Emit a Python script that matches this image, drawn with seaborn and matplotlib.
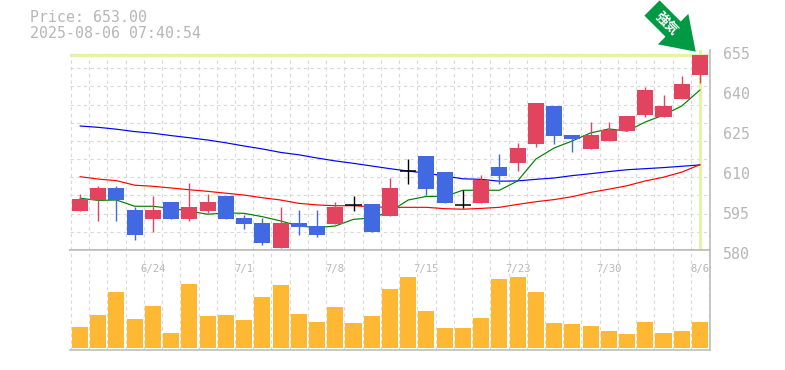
import numpy as np
import pandas as pd
import seaborn as sns
import matplotlib
matplotlib.use('Agg')
import matplotlib.pyplot as plt
from matplotlib.transforms import ScaledTranslation

# daily candles
opens = [594.6, 598.75, 603.25, 595, 591.6, 598, 591.6, 594.6, 600.25, 592, 590.1, 580.75,
         590.1, 589, 589.75, 597, 597.25, 592.75, 609.75, 615.25, 609.25, 597, 597.6, 611.1,
         612.6, 619.75, 634, 623.1, 617.9, 620.9, 624.6, 630.6, 629.9, 636.6, 645.6]
closes = [599.1, 603.25, 598.75, 585.6, 595, 591.6, 596.1, 598, 591.6, 589.75, 582.6, 590.1,
          588.6, 585.6, 596.1, 597, 586.75, 603.25, 609.75, 602.9, 597.6, 597, 606.25, 607.75,
          618.25, 635.1, 622.75, 621.6, 623.1, 625, 630.25, 640, 634, 642.25, 653.1]
highs = [601, 604, 604, 596.1, 600.25, 598, 605.1, 601, 600.25, 593.1, 592, 596.1,
         595, 595, 598, 600.25, 597.25, 607, 614.1, 615.25, 609.25, 602.5, 608.1, 616,
         620.1, 635.1, 634, 623.1, 628, 628, 630.25, 641.1, 638.1, 645.25, 653.1]
lows = [594.6, 590.9, 590.9, 583.75, 586.75, 591.6, 590.9, 593.9, 591.6, 587.9, 581.9, 580.75,
        585.6, 584.9, 589.75, 594.6, 586.75, 592.75, 604.75, 600.6, 597.6, 595.75, 597.6, 604.75,
        609.6, 618.6, 619.75, 616.75, 617.9, 620.9, 624.6, 629.9, 629.9, 636.6, 642.6]

ma_short = [599.4, 598.6, 598.75, 596.4, 596.4, 595.6, 594.6, 593.4, 593.9, 593.75, 592.5, 590.9,
            589, 588.4, 589, 591.5, 592, 594.4, 598.75, 600.1, 600.1, 602.4, 602.4, 602.4,
            605.9, 614.1, 618.25, 620.9, 623.9, 625.4, 624.6, 628, 630.6, 634, 640]
ma_mid = [607.5, 606.6, 606, 604.3, 603.9, 603.25, 602.6, 602, 601.3, 600.6, 599.6, 598.75,
          597.5, 596.9, 596.6, 596.6, 596.2, 596, 596, 596, 595.5, 595.3, 595.6, 596,
          597.1, 598.1, 598.9, 600, 601.6, 602.8, 604.1, 605.9, 607.3, 609.2, 612]
ma_long = [626.5, 626, 625.3, 624.4, 623.8, 622.9, 622.1, 621.25, 620.2, 619, 617.9, 616.6,
           615.7, 614.5, 613.4, 612.5, 611.5, 610.5, 609.6, 608.8, 607.75, 606.7, 606.5, 605.8,
           605.9, 606.5, 607, 607.9, 608.6, 609.4, 610.1, 610.5, 610.9, 611.4, 611.9]

volume = [21, 33, 56, 29, 42, 15, 64, 32, 33, 28, 51, 63, 34, 26, 41, 25, 32, 59,
          71, 37, 20, 20, 30, 69, 71, 56, 25, 24, 22, 17, 14, 26, 15, 17, 26]

date_pos = [4, 9, 14, 19, 24, 29, 34]
date_labels = ['6/24', '7/1', '7/8', '7/15', '7/23', '7/30', '8/6']
price_ticks = [580, 595, 610, 625, 640, 655]
last_price = 653.0

RED = '#e2435f'
BLUE = '#4169e1'
GRID = '#d8d8d8'
FRAME = '#bdbdbd'
TEXT = '#b6b6b6'
HILITE = '#e3f4a6'
MONO = 'DejaVu Sans Mono'
DASH = (0, (3, 3))

sns.set_style('white')
plt.rcParams['font.family'] = [MONO, 'Noto Sans CJK JP']

W, H = 785, 370
fig = plt.figure(figsize=(W / 100, H / 100), dpi=100)
ax = fig.add_axes([70 / W, 1 - 250 / H, 640 / W, 200 / H])
ax_vol = fig.add_axes([70 / W, 1 - 350 / H, 640 / W, 100 / H])

df = pd.DataFrame({'i': np.arange(len(opens)), 'open': opens, 'close': closes, 'high': highs, 'low': lows,
                   'short': ma_short, 'mid': ma_mid, 'long': ma_long, 'volume': volume})
xlim = (-0.548, 34.55)
grid_x = np.arange(len(df) + 1) - 0.5

# moving averages sit under the candles
for col, c in [('long', '#0000ff'), ('mid', '#ff0000'), ('short', '#007f00')]:
    sns.lineplot(data=df, x='i', y=col, ax=ax, color=c, linewidth=0.85, zorder=3)

ax.axhline(last_price, color=HILITE, linewidth=2.4, zorder=2)
ax.axvline(df['i'].iloc[-1], color=HILITE, linewidth=2.2, zorder=2)

up = df[df['close'] > df['open']]
down = df[df['close'] < df['open']]
doji = df[df['close'] == df['open']]
for part, c in [(up, RED), (down, BLUE), (doji, 'black')]:
    ax.vlines(part['i'], part['low'], part['high'], color=c, linewidth=1.0, zorder=4)
    ax.bar(part['i'], (part['close'] - part['open']).abs(), bottom=part[['open', 'close']].min(axis=1),
           width=0.88, color=c, linewidth=0, zorder=5)
ax.hlines(doji['open'], doji['i'] - 0.44, doji['i'] + 0.44, color='black', linewidth=1.1, zorder=5)

ax.set_xlim(xlim)
ax.set_ylim(580, 655)
ax.set_xticks(grid_x, minor=True)
ax.set_xticks([])
ax.set_yticks(np.linspace(580, 655, 12), minor=True)
ax.set_yticks(price_ticks, [str(p) for p in price_ticks])
ax.grid(which='minor', color=GRID, linestyle=DASH, linewidth=0.8)
ax.grid(which='major', visible=False)
ax.set_axisbelow(True)
ax.yaxis.tick_right()
ax.tick_params(axis='y', which='major', length=0, pad=9, labelsize=10.7, labelcolor=TEXT)
ax.tick_params(which='minor', length=0)
ax.set_xlabel('')
ax.set_ylabel('')
for lab in ax.get_yticklabels():
    lab.set_transform(lab.get_transform() + ScaledTranslation(0, -3 / 100, fig.dpi_scale_trans))
for side in ['top', 'left']:
    ax.spines[side].set_visible(False)
for side in ['bottom', 'right']:
    ax.spines[side].set_color(FRAME)
    ax.spines[side].set_linewidth(1.2)

# volume panel
sns.barplot(data=df, x='i', y='volume', ax=ax_vol, native_scale=True, color='#ffb833',
            saturation=1, width=0.88, linewidth=0, zorder=3)
ax_vol.set_xlim(xlim)
ax_vol.set_ylim(-2, 98)
ax_vol.set_yticks([])
ax_vol.set_xticks(grid_x, minor=True)
ax_vol.xaxis.tick_top()
ax_vol.set_xticks(date_pos, date_labels)
ax_vol.grid(which='minor', axis='x', color=GRID, linestyle=DASH, linewidth=0.8)
ax_vol.grid(which='major', visible=False)
ax_vol.set_axisbelow(True)
ax_vol.tick_params(axis='x', which='major', length=0, pad=-17, labelsize=7.6, labelcolor=TEXT)
ax_vol.tick_params(which='minor', length=0)
ax_vol.set_xlabel('')
ax_vol.set_ylabel('')
ax_vol.spines['left'].set_visible(False)
for side in ['top', 'bottom', 'right']:
    ax_vol.spines[side].set_color(FRAME)
    ax_vol.spines[side].set_linewidth(1.2)

# header
fig.text(30 / W, 1 - 18 / H, 'Price: 653.00', color=TEXT, fontsize=10.7, va='center', family=MONO)
fig.text(30 / W, 1 - 33 / H, '2025-08-06 07:40:54', color=TEXT, fontsize=10.7, va='center', family=MONO)

# marker arrow pointing at the last candle
ax.annotate('', xy=(695.7, H - 51.7), xytext=(652, H - 8), xycoords='figure pixels', textcoords='figure pixels',
            annotation_clip=False, zorder=6,
            arrowprops=dict(facecolor='#009944', edgecolor='none', width=15.5, headwidth=31, headlength=23, shrink=0))
fig.text(667 / W, 1 - 23.5 / H, '強気', color='white', fontsize=9.5, fontweight='bold', rotation=-45,
         rotation_mode='anchor', ha='center', va='center', family=['Noto Sans CJK JP'], zorder=10)

fig.savefig('out.png', dpi=100)
